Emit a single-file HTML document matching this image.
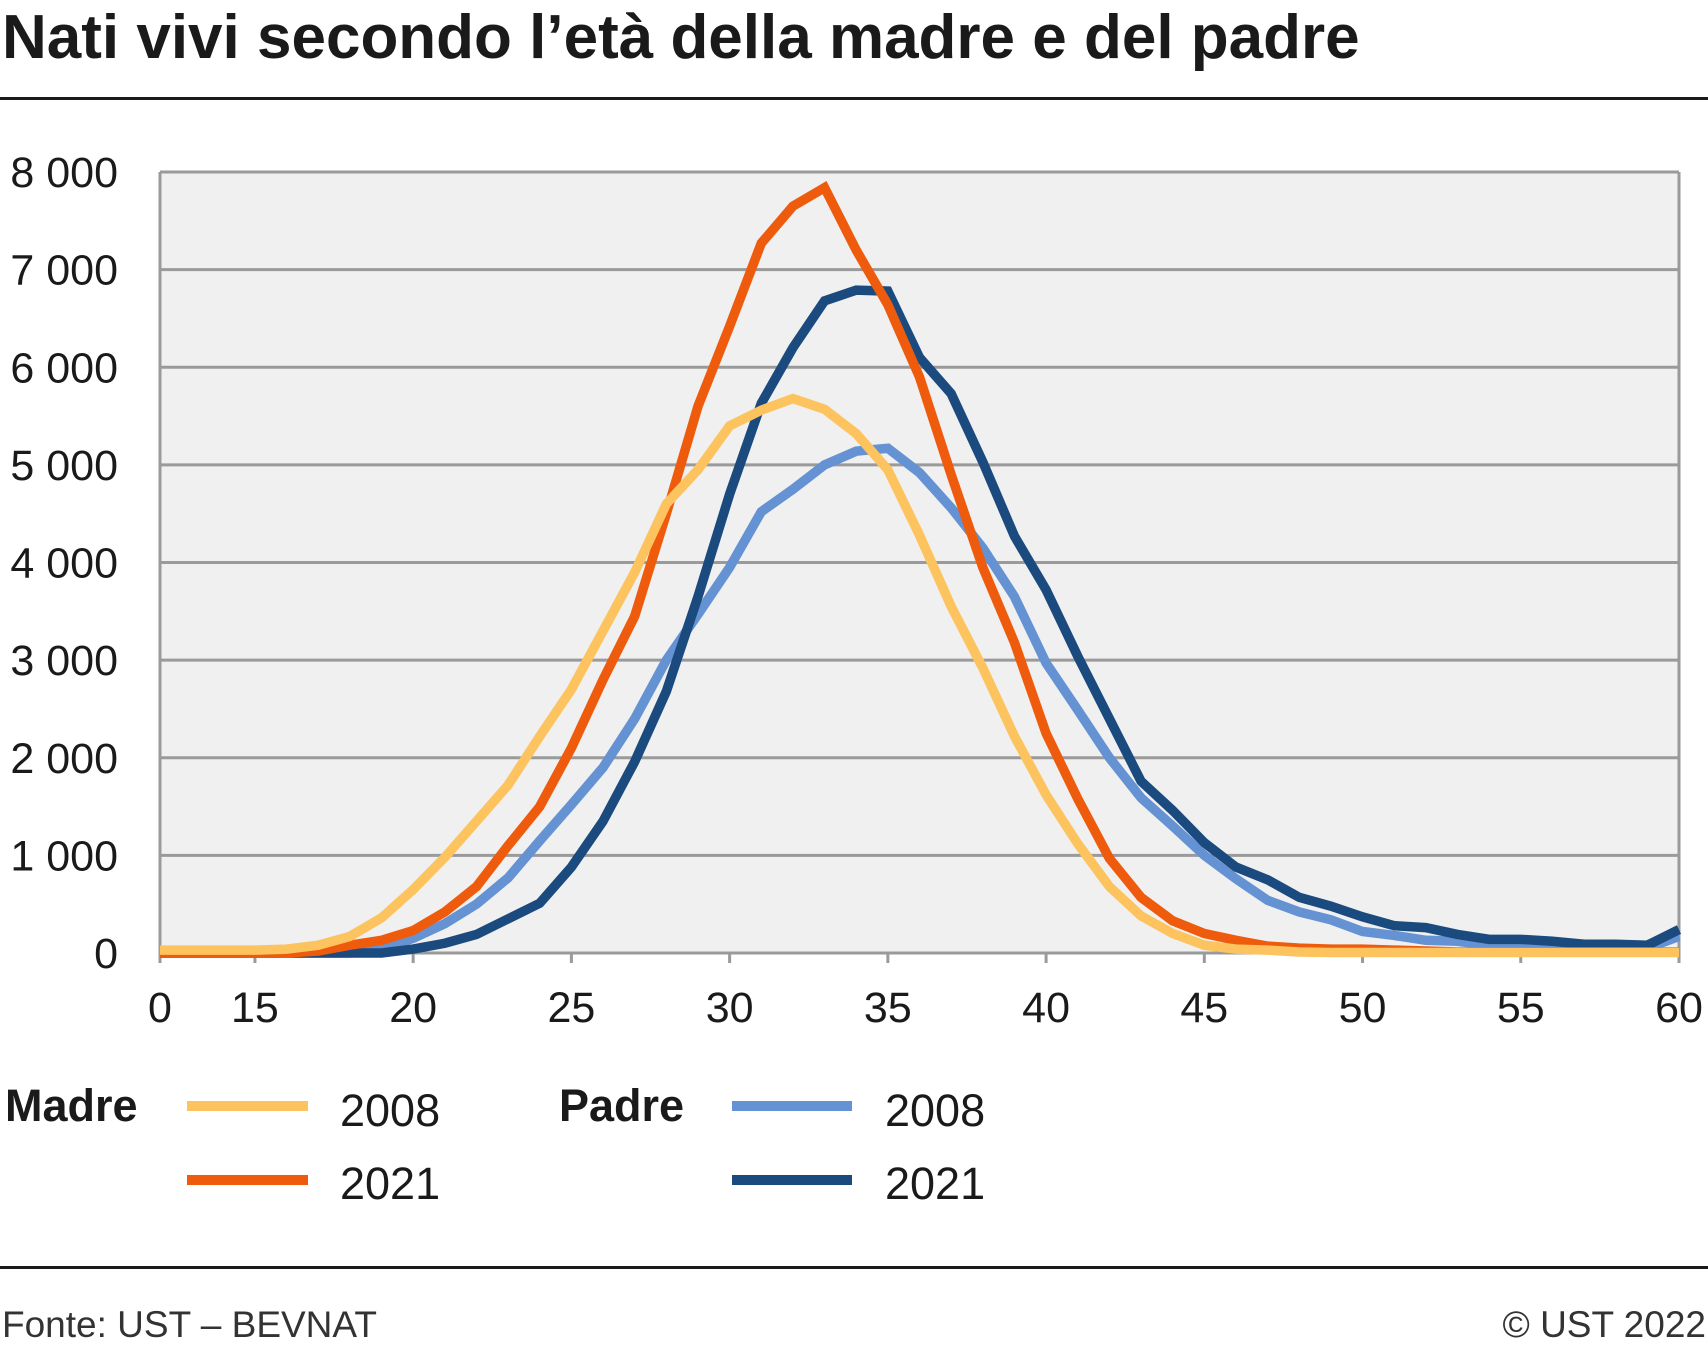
<!DOCTYPE html>
<html><head><meta charset="utf-8"><style>
body{margin:0;background:#fff;width:1708px;height:1348px;overflow:hidden;font-family:"Liberation Sans",sans-serif;}
</style></head><body>
<svg width="1708" height="1348" xmlns="http://www.w3.org/2000/svg">
<text x="2" y="58" font-size="62" font-weight="bold" fill="#1a1a1a" font-family="Liberation Sans, sans-serif">Nati vivi secondo l’età della madre e del padre</text>
<rect x="0" y="97" width="1708" height="3" fill="#1a1a1a"/>
<g id="plot"></g>
<g id="legend">
<text x="5" y="1121" font-size="45" font-weight="bold" fill="#1a1a1a">Madre</text>
<line x1="187" y1="1106" x2="308" y2="1106" stroke="#FDC35F" stroke-width="10"/>
<text x="340" y="1126" font-size="45" fill="#1a1a1a">2008</text>
<line x1="187" y1="1180" x2="308" y2="1180" stroke="#EE5B0C" stroke-width="10"/>
<text x="340" y="1199" font-size="45" fill="#1a1a1a">2021</text>
<text x="559" y="1121" font-size="45" font-weight="bold" fill="#1a1a1a">Padre</text>
<line x1="732" y1="1106" x2="852" y2="1106" stroke="#6592D2" stroke-width="10"/>
<text x="885" y="1126" font-size="45" fill="#1a1a1a">2008</text>
<line x1="732" y1="1180" x2="852" y2="1180" stroke="#1B4A7E" stroke-width="10"/>
<text x="885" y="1199" font-size="45" fill="#1a1a1a">2021</text>
</g>
<rect x="0" y="1266" width="1708" height="3" fill="#1a1a1a"/>
<text x="2" y="1337" font-size="37" fill="#333">Fonte: UST – BEVNAT</text>
<text x="1706" y="1337" font-size="37" fill="#333" text-anchor="end">© UST 2022</text>
</svg>
<script>
const ages=[12,13,14,15,16,17,18,19,20,21,22,23,24,25,26,27,28,29,30,31,32,33,34,35,36,37,38,39,40,41,42,43,44,45,46,47,48,49,50,51,52,53,54,55,56,57,58,59,60];
const madre2008=[30,30,30,30,40,80,170,360,650,980,1350,1720,2220,2700,3300,3900,4600,4950,5400,5560,5680,5570,5320,4950,4280,3550,2920,2220,1620,1120,680,380,200,80,40,30,10,5,5,5,5,5,5,5,5,5,5,5,5];
const madre2021=[0,0,0,0,0,20,80,130,230,420,680,1100,1500,2100,2800,3450,4500,5600,6420,7270,7650,7840,7200,6640,5900,4900,3950,3180,2250,1580,970,570,330,200,130,70,50,40,40,30,20,10,10,10,10,10,10,10,10];
const padre2008=[0,0,0,0,0,0,0,40,150,300,500,770,1150,1520,1900,2400,3000,3470,3950,4520,4750,5000,5140,5170,4920,4560,4150,3650,2970,2490,2000,1590,1300,1000,760,540,420,340,220,180,130,120,80,80,70,60,60,50,170];
const padre2021=[0,0,0,0,0,0,0,0,40,100,190,350,510,880,1350,1960,2680,3650,4700,5630,6200,6680,6790,6780,6100,5730,5030,4270,3720,3040,2400,1760,1460,1130,880,750,570,480,370,280,260,190,140,140,120,90,90,80,240];
const yTicks=[0,1000,2000,3000,4000,5000,6000,7000,8000];
const yTickLabels=["0","1 000","2 000","3 000","4 000","5 000","6 000","7 000","8 000"];
const xTicks=[12,15,20,25,30,35,40,45,50,55,60];
const xTickLabels=["0","15","20","25","30","35","40","45","50","55","60"];

const L=160,R=1679,T=172,B=953,A0=12,A1=60;
const xs=a=>L+(a-A0)*(R-L)/(A1-A0);
const ys=v=>B-v*(B-T)/8000;
const NS="http://www.w3.org/2000/svg";
const g=document.getElementById('plot');
function mk(t,at){const e=document.createElementNS(NS,t);for(const k in at)e.setAttribute(k,at[k]);g.appendChild(e);return e;}
let bg=mk('rect',{x:L,y:T,width:R-L,height:B-T,fill:'#f0f0f0'});


yTicks.forEach((v,i)=>{
  const ln=mk('line',{x1:L,x2:R,y1:ys(v),y2:ys(v),stroke:'#9a9a9a','stroke-width':3});
  
  
  const t=mk('text',{x:118,y:ys(v)+15,'font-size':43,'text-anchor':'end',fill:'#1a1a1a'});
  t.textContent=yTickLabels[i];
  
  
});
let bl=mk('line',{x1:L,x2:L,y1:T,y2:B,stroke:'#9a9a9a','stroke-width':3});


let br=mk('line',{x1:R,x2:R,y1:T,y2:B,stroke:'#9a9a9a','stroke-width':3});


xTicks.forEach((a,i)=>{
  const tk=mk('line',{x1:xs(a),x2:xs(a),y1:B,y2:B+10,stroke:'#9a9a9a','stroke-width':3});
  
  
  const t=mk('text',{x:xs(a),y:1022,'font-size':43,'text-anchor':'middle',fill:'#1a1a1a'});
  t.textContent=xTickLabels[i];
  
  
});
function series(data,color,name){
  const p=mk('polyline',{points:data.map((v,i)=>xs(ages[i])+','+ys(v)).join(' '),fill:'none',stroke:color,'stroke-width':9.5,'stroke-linejoin':'miter'});
  
  
}
series(padre2008,'#6592D2','line-padre-2008');
series(padre2021,'#1B4A7E','line-padre-2021');
series(madre2021,'#EE5B0C','line-madre-2021');
series(madre2008,'#FDC35F','line-madre-2008');
</script>
</body></html>
